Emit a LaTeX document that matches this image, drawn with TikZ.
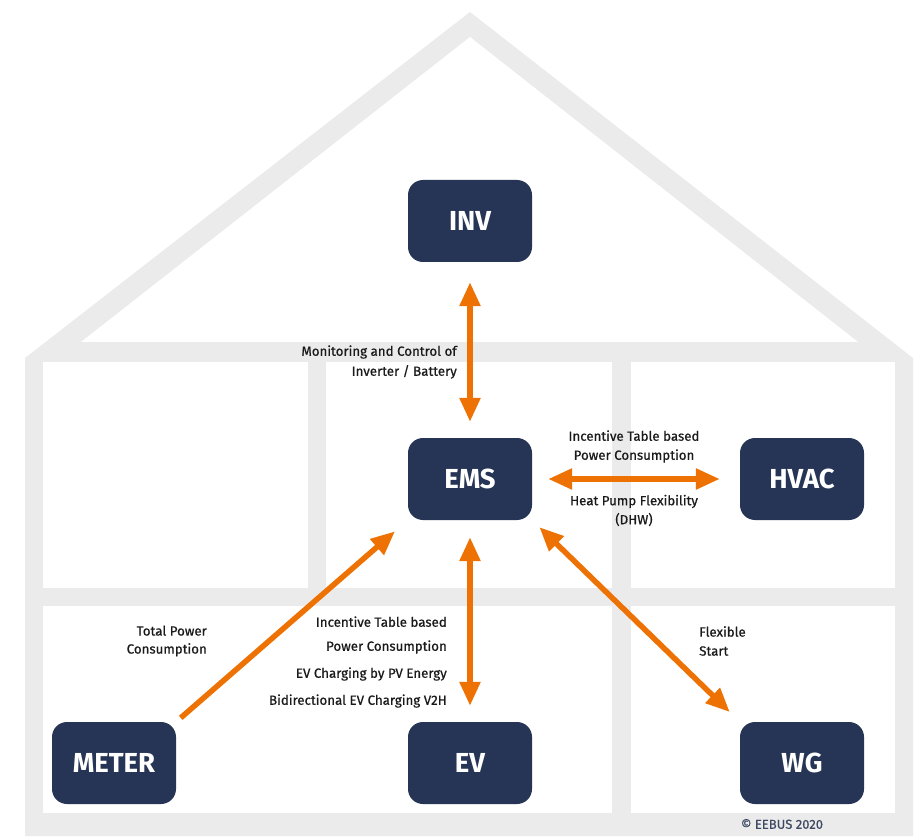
\documentclass[tikz,border=0pt]{standalone}
\usepackage{fontspec}
\setmainfont{Fira Sans}
\newfontfamily\labelfont[FakeBold=0.6]{Fira Sans}
\usetikzlibrary{arrows.meta}
\definecolor{wallgray}{HTML}{EBEBEB}
\definecolor{navy}{HTML}{263556}
\definecolor{flow}{HTML}{EE7203}
\definecolor{labeltext}{HTML}{1A1A1A}
\definecolor{credit}{HTML}{3E4A63}
\begin{document}
\begin{tikzpicture}[x=1pt,y=-1pt,
  device/.style={fill=navy, rounded corners=15pt, minimum width=124pt,
    minimum height=82pt, inner sep=0pt, text=white,
    font=\fontsize{27.5}{27.5}\selectfont\bfseries},
  flowtip/.tip={Triangle[length=24pt,width=20pt]},
  link/.style={draw=flow, line width=5.5pt, -flowtip},
  bilink/.style={draw=flow, line width=5.5pt, flowtip-flowtip},
  caption/.style={text=labeltext, inner sep=0pt},
]
\useasboundingbox (0,0) rectangle (922,837);

% house outline: walls, roof and floors
\fill[wallgray] (470,12) -- (913,358) -- (913,836) -- (25,836) -- (25,358) -- cycle;
\fill[white] (470,37) -- (858,342) -- (81,342) -- cycle;
\fill[white] (43,362) rectangle (308,588);
\fill[white] (326,362) rectangle (612,588);
\fill[white] (631,362) rectangle (895,588);
\fill[white] (43,606) rectangle (612,813);
\fill[white] (631,606) rectangle (895,813);

% devices
\node[device] (INV)   at (470,221) {INV};
\node[device] (EMS)   at (470,479) {EMS};
\node[device] (HVAC)  at (802,479) {HVAC};
\node[device] (METER) at (114,763) {METER};
\node[device] (EV)    at (470,763) {EV};
\node[device] (WG)    at (802,763) {WG};

% connections
\draw[bilink, shorten <=20pt, shorten >=16pt] (INV) -- (EMS);
\draw[bilink, shorten <=16pt, shorten >=20pt] (EMS) -- (HVAC);
\draw[bilink, shorten <=17pt, shorten >=16pt] (EMS) -- (EV);
\draw[link, shorten <=6pt, shorten >=17pt] (METER.north east) -- (EMS.south west);
\draw[bilink, shorten <=10pt, shorten >=14pt] (EMS.south east) -- (WG.north west);

% labels
\node[caption, anchor=east, align=right, font=\labelfont\fontsize{13.3}{20}\selectfont]
  (lblInv) at (457,362) {Monitoring and Control of\\Inverter / Battery};
\node[caption, align=center, font=\labelfont\fontsize{13.3}{19}\selectfont]
  (lblHvacA) at (634,446.5) {Incentive Table based\\Power Consumption};
\node[caption, align=center, font=\labelfont\fontsize{13.3}{19}\selectfont]
  (lblHvacB) at (634,510.5) {Heat Pump Flexibility\\(DHW)};
\node[caption, anchor=east, align=right, font=\labelfont\fontsize{13.3}{18}\selectfont]
  (lblMeter) at (207,641) {Total Power\\Consumption};
\node[caption, anchor=east, align=right, font=\labelfont\fontsize{13.3}{24}\selectfont]
  (lblEv) at (447,662) {Incentive Table based\\Power Consumption\\[3pt]EV Charging by PV Energy\\[3pt]Bidirectional EV Charging V2H};
\node[caption, anchor=west, align=left, font=\labelfont\fontsize{13.3}{19}\selectfont]
  (lblWg) at (699,641) {Flexible\\Start};

\node[text=credit, inner sep=0pt, font=\labelfont\fontsize{13}{13}\selectfont]
  (copyright) at (782,824) {© EEBUS 2020};
\end{tikzpicture}
\end{document}
